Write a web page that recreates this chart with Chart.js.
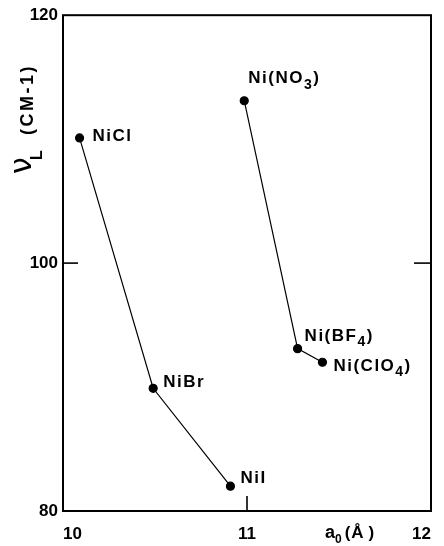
<!DOCTYPE html>
<html>
<head>
<meta charset="utf-8">
<script src="https://cdn.jsdelivr.net/npm/chart.js@4.4.0/dist/chart.umd.min.js"></script>
<style>
html,body{margin:0;padding:0;background:#fff;}
#wrap{width:444px;height:546px;}
</style>
</head>
<body>
<div id="wrap"><canvas id="c" width="444" height="546"></canvas></div>
<script>
// ---- data ----
const halideX = [10.09, 10.49, 10.91];
const halideY = [110.1, 89.9, 82.0];
const halideNames = ["NiCl", "NiBr", "NiI"];
const oxyX = [10.985, 11.275, 11.41];
const oxyY = [113.1, 93.1, 92.0];
const oxyNames = ["Ni(NO_3)", "Ni(BF_4)", "Ni(ClO_4)"];
const xTicks = [10, 11, 12];
const yTicks = [80, 100, 120];

// label placement (style): dx, dy from point (text left, vertical middle)
const halideLabelOffsets = [[13, -2], [10, -6], [10, -8]];
const oxyLabelOffsets = [[4, -22], [7, -12], [11, 4]];

const FONT = '"Liberation Sans", Arial, sans-serif';

function drawRich(ctx, text, x, y, size, gap) {
  // '_' marks the next char as subscript
  let cx = x;
  for (let i = 0; i < text.length; i++) {
    let ch = text[i];
    if (ch === '_' && i + 1 < text.length) {
      i++;
      ch = text[i];
      ctx.font = 'bold ' + Math.round(size * 0.8) + 'px ' + FONT;
      ctx.fillText(ch, cx, y + size * 0.35);
    } else {
      ctx.font = 'bold ' + size + 'px ' + FONT;
      ctx.fillText(ch, cx, y);
    }
    cx += ctx.measureText(ch).width + gap;
  }
  return cx;
}

const toPts = (xs, ys) => xs.map((x, i) => ({x: x, y: ys[i]}));

const decor = {
  id: 'decor',
  afterDatasetsDraw(chart) {
    const ctx = chart.ctx;
    const a = chart.chartArea;
    const xs = chart.scales.x, ys = chart.scales.y;
    ctx.save();
    // frame
    ctx.strokeStyle = '#000';
    ctx.lineWidth = 2;
    ctx.strokeRect(a.left, a.top, a.right - a.left, a.bottom - a.top);
    // inward ticks
    ctx.lineWidth = 1.6;
    xTicks.slice(1, -1).forEach(v => {
      const px = xs.getPixelForValue(v);
      ctx.beginPath(); ctx.moveTo(px, a.bottom); ctx.lineTo(px, a.bottom - 15); ctx.stroke();
    });
    yTicks.slice(1, -1).forEach(v => {
      const py = ys.getPixelForValue(v);
      ctx.beginPath(); ctx.moveTo(a.left, py); ctx.lineTo(a.left + 15, py); ctx.stroke();
      ctx.beginPath(); ctx.moveTo(a.right, py); ctx.lineTo(a.right - 17, py); ctx.stroke();
    });
    // point labels
    ctx.fillStyle = '#000';
    ctx.textBaseline = 'middle';
    ctx.textAlign = 'left';
    const groups = [[halideX, halideY, halideNames, halideLabelOffsets], [oxyX, oxyY, oxyNames, oxyLabelOffsets]];
    groups.forEach(([gx, gy, names, offs]) => {
      names.forEach((n, i) => {
        const px = xs.getPixelForValue(gx[i]);
        const py = ys.getPixelForValue(gy[i]);
        drawRich(ctx, n, px + offs[i][0], py + offs[i][1], 17, 1.5);
      });
    });
    // x axis title a0(Å)
    ctx.textBaseline = 'alphabetic';
    let tx = 325, ty = 538;
    ctx.font = 'bold 18px ' + FONT;
    ctx.fillText('a', tx, ty); tx += ctx.measureText('a').width;
    ctx.font = 'bold 12px ' + FONT;
    ctx.fillText('0', tx, ty + 5); tx += ctx.measureText('0').width + 3;
    ctx.font = 'bold 17px ' + FONT;
    ctx.fillText('(', tx, ty); tx += ctx.measureText('(').width + 1;
    ctx.fillText('Å', tx, ty); tx += ctx.measureText('Å').width + 5;
    ctx.fillText(')', tx, ty);
    // y axis title  ν_L (CM-1)
    ctx.translate(31, 173);
    ctx.rotate(-Math.PI / 2);
    ctx.font = '30px "DejaVu Sans", sans-serif';
    ctx.fillText('ν', -1, 0);
    ctx.font = 'bold 16px ' + FONT;
    ctx.fillText('L', 13, 11);
    let ux = 38;
    ctx.font = 'bold 18px ' + FONT;
    ['(', 'C', 'M', '-', '1', ')'].forEach(ch => {
      ctx.fillText(ch, ux, 2);
      ux += ctx.measureText(ch).width + 2.5;
    });
    ctx.restore();
  }
};

new Chart(document.getElementById('c'), {
  type: 'scatter',
  data: {
    datasets: [
      {label: 'halides', data: toPts(halideX, halideY), showLine: true,
       borderColor: '#000', backgroundColor: '#000', borderWidth: 1.2,
       pointRadius: 4, pointHoverRadius: 4},
      {label: 'oxyanions', data: toPts(oxyX, oxyY), showLine: true,
       borderColor: '#000', backgroundColor: '#000', borderWidth: 1.2,
       pointRadius: 4, pointHoverRadius: 4}
    ]
  },
  options: {
    responsive: false,
    animation: false,
    events: [],
    layout: {padding: {top: 14, right: 7, left: 0, bottom: 0}},
    plugins: {legend: {display: false}, tooltip: {enabled: false}},
    scales: {
      x: {
        type: 'linear', min: 10, max: 12,
        afterBuildTicks: s => { s.ticks = xTicks.map(v => ({value: v})); },
        afterFit: s => { s.height = 35; },
        grid: {display: false, drawTicks: false},
        border: {display: false},
        ticks: {color: '#000', padding: 13, align: 'inner', maxRotation: 0,
                font: {family: FONT, size: 17, weight: 'bold'}}
      },
      y: {
        type: 'linear', min: 80, max: 120,
        afterBuildTicks: s => { s.ticks = yTicks.map(v => ({value: v})); },
        afterFit: s => { s.width = 63; },
        grid: {display: false, drawTicks: false},
        border: {display: false},
        ticks: {color: '#000', padding: 5,
                font: {family: FONT, size: 17, weight: 'bold'}}
      }
    }
  },
  plugins: [decor]
});
</script>
</body>
</html>
